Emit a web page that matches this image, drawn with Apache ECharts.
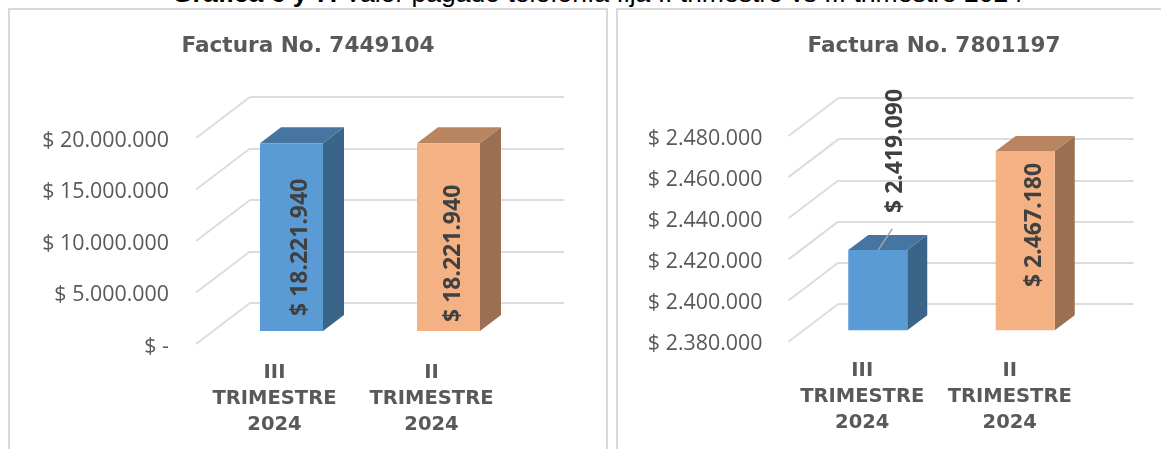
<!DOCTYPE html>
<html>
<head>
<meta charset="utf-8">
<style>
  html, body { margin: 0; height: 100%; background: #fff; overflow: hidden; }
  .caption {
    position: absolute; left: 0; width: 1200px; top: -22px; padding-left: 172px; z-index: 2;
    font: 26.5px "Liberation Sans", Arial, sans-serif; color: #000; white-space: nowrap; box-sizing: border-box;
  }
  .panel { position: absolute; top: 8px; height: 460px; border: 2px solid #d9d9d9; box-sizing: border-box; }
  #chartLeft { left: 8px; width: 600px; }
  #chartRight { left: 616px; width: 640px; }
</style>
</head>
<body>
<div class="caption"><b>Gráfica 6 y 7.</b> Valor pagado telefonía fija II trimestre vs III trimestre 2024</div>
<div id="chartLeft" class="panel"></div>
<div id="chartRight" class="panel"></div>
<script src="https://cdn.jsdelivr.net/npm/echarts@6/dist/echarts.min.js"></script>
<script>
const categories = ['III\nTRIMESTRE\n2024', 'II\nTRIMESTRE\n2024']

const leftTitle = 'Factura No. 7449104'
const leftValues = [18221940, 18221940]
const leftTicks = [0, 5000000, 10000000, 15000000, 20000000]

const rightTitle = 'Factura No. 7801197'
const rightValues = [2419090, 2467180]
const rightTicks = [2380000, 2400000, 2420000, 2440000, 2460000, 2480000]

const barColors = [
  { front: '#5b9bd5', top: '#4675a1', side: '#3a6488' },
  { front: '#f4b183', top: '#b98560', side: '#9b7052' }
]
const gridColor = '#dcdcdc'
const textColor = '#595959'
const labelColor = '#404040'

const money = (v) => '$ ' + String(v).replace(/\B(?=(\d{3})+$)/g, '.')
const tickLabel = (v) => (v === 0 ? '$ -' : money(v))

// front plane = ticks and category names, back wall = the grey lines
const buildOption = (title, values, ticks, cfg) => ({
  animation: false,
  title: {
    text: title,
    left: cfg.titleX,
    top: cfg.titleY,
    textAlign: 'center',
    textStyle: { fontFamily: 'DejaVu Sans', fontWeight: 'bold', fontSize: 21.6, color: textColor }
  },
  grid: [
    { left: cfg.left, top: cfg.top, width: cfg.width, height: cfg.height },
    { left: cfg.left + cfg.depthX, top: cfg.top - cfg.depthY, width: cfg.width, height: cfg.height }
  ],
  xAxis: [
    {
      type: 'category',
      gridIndex: 0,
      data: categories,
      axisLine: { show: false },
      axisTick: { show: false },
      axisLabel: {
        interval: 0,
        margin: 16,
        lineHeight: 26,
        fontFamily: 'DejaVu Sans',
        fontWeight: 'bold',
        fontSize: 19.5,
        color: textColor
      }
    },
    { type: 'category', gridIndex: 1, data: categories, show: false }
  ],
  yAxis: [
    {
      type: 'value',
      gridIndex: 0,
      min: ticks[0],
      max: ticks[ticks.length - 1],
      interval: ticks[1] - ticks[0],
      splitLine: { show: false },
      axisLine: { show: false },
      axisTick: { show: false },
      axisLabel: {
        margin: cfg.labelMargin,
        formatter: tickLabel,
        fontFamily: 'Open Sans',
        fontSize: 21.4,
        verticalAlign: 'top',
        lineHeight: 5,
        color: textColor
      }
    },
    {
      type: 'value',
      gridIndex: 1,
      min: ticks[0],
      max: ticks[ticks.length - 1],
      interval: ticks[1] - ticks[0],
      axisLine: { show: false },
      axisTick: { show: false },
      axisLabel: { show: false },
      splitLine: { lineStyle: { color: gridColor, width: 2 } }
    }
  ],
  series: [
    {
      // floor lines from the tick to the back wall
      type: 'custom',
      xAxisIndex: 0,
      yAxisIndex: 0,
      silent: true,
      z: 1,
      data: ticks.map((t) => [0, t]),
      renderItem: (params, api) => {
        const y = api.coord([0, api.value(1)])[1]
        return {
          type: 'line',
          shape: { x1: cfg.left, y1: y, x2: cfg.left + cfg.depthX, y2: y - cfg.depthY },
          style: { stroke: gridColor, lineWidth: 2 }
        }
      }
    },
    {
      type: 'custom',
      xAxisIndex: 0,
      yAxisIndex: 0,
      silent: true,
      z: 3,
      data: values.map((v, i) => [i, v]),
      renderItem: (params, api) => {
        const i = api.value(0)
        const val = api.value(1)
        const c = barColors[i]
        const top = api.coord([i, val])
        const base = api.coord([i, ticks[0]])
        const x0 = top[0] + cfg.barShiftX - cfg.barHalf
        const x1 = top[0] + cfg.barShiftX + cfg.barHalf
        const yt = top[1] - cfg.barShiftY
        const yb = base[1] - cfg.barShiftY
        const dx = cfg.sideX
        const dy = cfg.sideY
        const lab = cfg.labels[i]
        const children = [
          { type: 'polygon', shape: { points: [[x0, yt], [x1, yt], [x1 + dx, yt - dy], [x0 + dx, yt - dy]] }, style: { fill: c.top } },
          { type: 'polygon', shape: { points: [[x1, yt], [x1 + dx, yt - dy], [x1 + dx, yb - dy], [x1, yb]] }, style: { fill: c.side } },
          { type: 'rect', shape: { x: x0, y: yt, width: x1 - x0, height: yb - yt }, style: { fill: c.front } }
        ]
        if (lab.leader) {
          children.push({
            type: 'line',
            shape: { x1: top[0] + lab.leader[0], y1: yt + lab.leader[1], x2: top[0] + lab.leader[2], y2: yt + lab.leader[3] },
            style: { stroke: '#a6a6a6', lineWidth: 1.5 }
          })
        }
        children.push({
          type: 'text',
          x: top[0] + lab.dx,
          y: yt + lab.dy,
          rotation: Math.PI / 2,
          style: {
            text: money(val),
            align: 'center',
            verticalAlign: 'middle',
            font: 'bold 23px "Noto Sans"',
            fill: labelColor
          }
        })
        return { type: 'group', children }
      }
    }
  ]
})

const leftChart = echarts.init(document.getElementById('chartLeft'))
leftChart.setOption(buildOption(leftTitle, leftValues, leftTicks, {
  titleX: 293, titleY: 20,
  left: 186, top: 128, width: 314, height: 206,
  depthX: 54, depthY: 41,
  labelMargin: 27,
  barShiftX: 17, barShiftY: 13, barHalf: 31.5,
  sideX: 21, sideY: 16,
  labels: [{ dx: 25.5, dy: 104 }, { dx: 21.5, dy: 110 }]
}))

const rightChart = echarts.init(document.getElementById('chartRight'))
rightChart.setOption(buildOption(rightTitle, rightValues, rightTicks, {
  titleX: 311, titleY: 20,
  left: 170.5, top: 126, width: 295, height: 205.7,
  depthX: 50, depthY: 38,
  labelMargin: 26,
  barShiftX: 15.5, barShiftY: 11.4, barHalf: 29.5,
  sideX: 20, sideY: 15,
  labels: [
    { dx: 33, dy: -99, leader: [16, 0, 30, -21] },
    { dx: 25, dy: 74 }
  ]
}))
</script>
</body>
</html>
